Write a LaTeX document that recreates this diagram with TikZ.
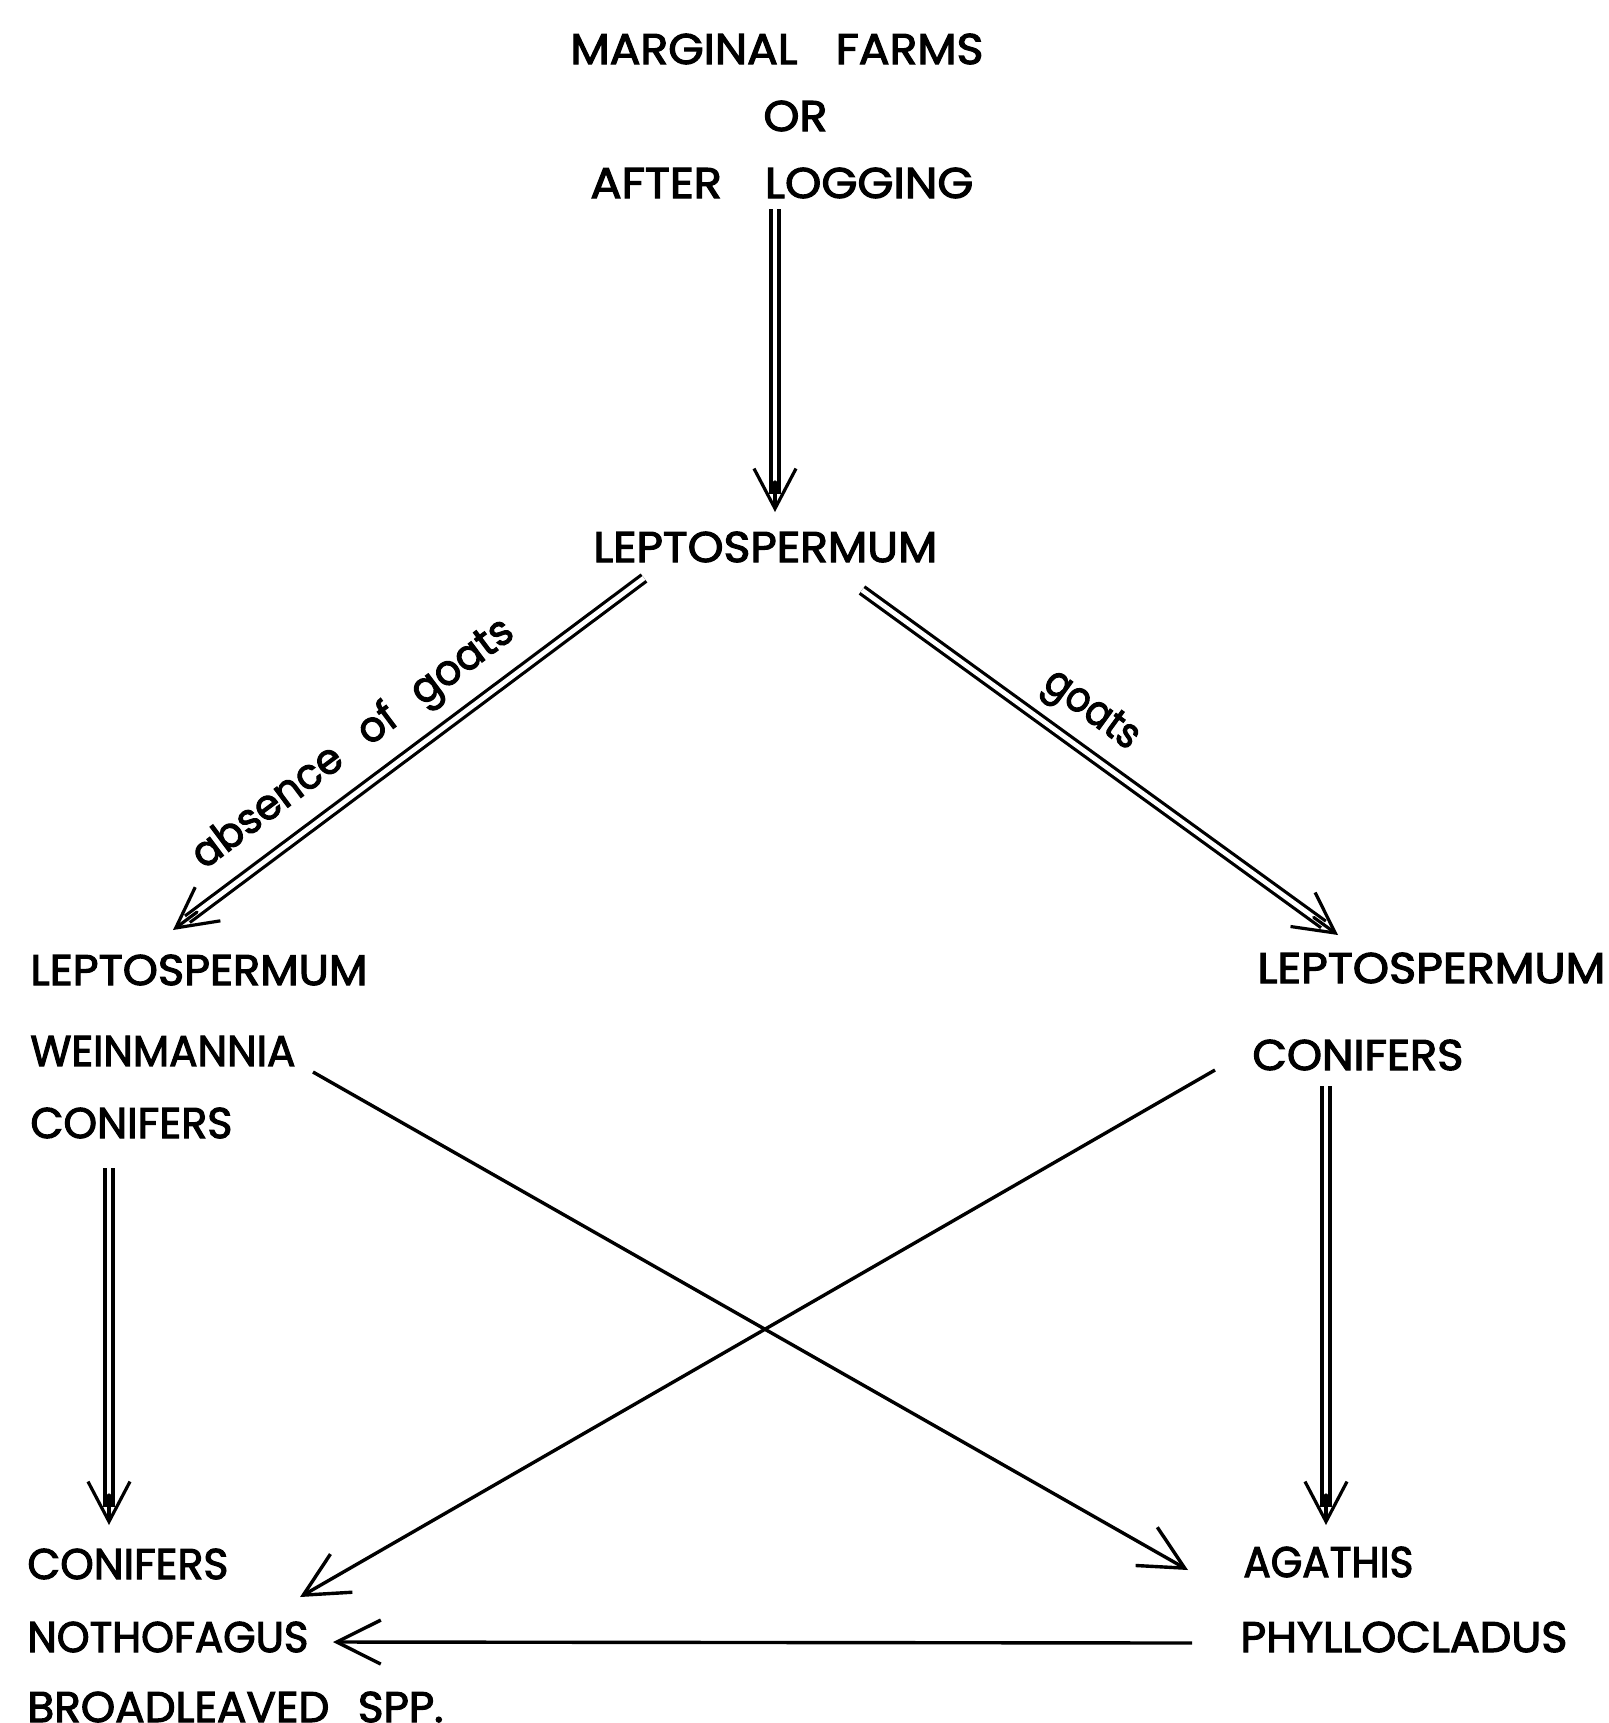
\documentclass[tikz,border=0pt]{standalone}
\usepackage{fontspec}
\setmainfont{Poppins}[FakeBold=2.5]
\usepackage{graphicx}
\usetikzlibrary{arrows.meta,calc}
\newcommand\fitw[2]{\resizebox{#1}{\height}{#2}}
\newcommand\dblarrow[2]{\draw[dbl] (#1) -- (#2); \draw[tipln] ($(#2)!15pt!(#1)$) -- (#2);}
\begin{document}
\begin{tikzpicture}[x=0.5pt,y=-0.5pt,
 txt/.style={inner sep=0pt, anchor=west, font=\fontsize{21.5}{26}\selectfont},
 lbl/.style={inner sep=0pt, font=\fontsize{21}{25}\selectfont},
 dbl/.style={double, double distance=2.4pt, line width=1.6pt, shorten >=9pt},
 tipln/.style={line width=1.6pt, line cap=round, -{Straight Barb[length=20pt,width=21pt,line width=1.6pt]}},
 sgl/.style={line width=1.7pt, -{Straight Barb[length=22pt,width=22pt,line width=1.7pt]}}]
\useasboundingbox[fill=white] (0,0) rectangle (1608,1723);
% texts
\node[txt] (mf) at (570,49) {\fitw{206.5pt}{MARGINAL\hspace{18pt}FARMS}};
\node[txt] (or) at (763,116) {\fitw{32pt}{OR}};
\node[txt] (al) at (590,183) {\fitw{191.5pt}{AFTER\hspace{20pt}LOGGING}};
\node[txt] (lt) at (593,547) {\fitw{172pt}{LEPTOSPERMUM}};
\node[txt] (l1) at (30,970) {\fitw{168.5pt}{LEPTOSPERMUM}};
\node[txt] (l2) at (30,1051) {\fitw{132.5pt}{WEINMANNIA}};
\node[txt] (l3) at (30,1123) {\fitw{101pt}{CONIFERS}};
\node[txt] (r1) at (1257,968) {\fitw{174pt}{LEPTOSPERMUM}};
\node[txt] (r2) at (1252,1055) {\fitw{105.5pt}{CONIFERS}};
\node[txt] (b1) at (27,1564) {\fitw{100.5pt}{CONIFERS}};
\node[txt] (b2) at (27,1637) {\fitw{140.5pt}{NOTHOFAGUS}};
\node[txt] (b3) at (27,1707) {\fitw{208pt}{BROADLEAVED\hspace{14pt}SPP.}};
\node[txt] (c1) at (1243,1562) {\fitw{85pt}{AGATHIS}};
\node[txt] (c2) at (1240,1637) {\fitw{163.5pt}{PHYLLOCLADUS}};
% labels
\node[lbl, rotate=36.8] (absl) at (354,745) {\fitw{195pt}{absence\hspace{15pt}of\hspace{14pt}goats}};
\node[lbl, rotate=-36] (gl) at (1090,712) {\fitw{54pt}{goats}};
% connector end points
\coordinate (a1s) at (775,209); \coordinate (a1t) at (775,512);
\coordinate (a2s) at (644,578); \coordinate (a2t) at (173,930);
\coordinate (a3s) at (862,590); \coordinate (a3t) at (1338,935);
\coordinate (a4s) at (109,1168); \coordinate (a4t) at (109,1525);
\coordinate (a5s) at (1326,1086); \coordinate (a5t) at (1326,1525);
\coordinate (x1s) at (313,1072); \coordinate (x1t) at (1188,1570);
\coordinate (x2s) at (1215,1070); \coordinate (x2t) at (300,1597);
\coordinate (hs) at (1192,1643); \coordinate (ht) at (333,1642);
% double arrows
\dblarrow{a1s}{a1t}
\dblarrow{a2s}{a2t}
\dblarrow{a3s}{a3t}
\dblarrow{a4s}{a4t}
\dblarrow{a5s}{a5t}
% single arrows
\draw[sgl] (x1s) -- (x1t);
\draw[sgl] (x2s) -- (x2t);
\draw[sgl] (hs) -- (ht);
\end{tikzpicture}
\end{document}
